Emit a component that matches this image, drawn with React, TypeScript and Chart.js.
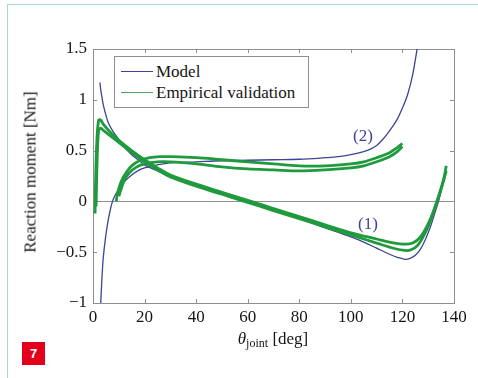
import React, { useEffect, useRef } from "react";
import { Chart, registerables } from "chart.js";

Chart.register(...registerables);

// ---- data ----
const xTicks = [0, 20, 40, 60, 80, 100, 120, 140];
const yTicks = [-1, -0.5, 0, 0.5, 1, 1.5];

// Model curve (2): rising from -1, plateau, then steep rise
const model2Theta = [3.0, 3.5, 4, 5, 6, 7, 8, 10, 12, 15, 18, 20, 25, 30, 40, 50, 60, 70, 80, 90, 95, 100, 105, 108, 110, 112, 114, 116, 118, 120, 122, 124, 125.7];
const model2Moment = [-1.0, -0.74, -0.55, -0.33, -0.17, -0.05, 0.03, 0.12, 0.19, 0.26, 0.31, 0.33, 0.36, 0.38, 0.39, 0.4, 0.405, 0.41, 0.415, 0.43, 0.44, 0.46, 0.49, 0.52, 0.55, 0.6, 0.66, 0.73, 0.81, 0.92, 1.05, 1.25, 1.5];

// Model curve (1): descending from 1.17 to minimum, then steep rise
const model1Theta = [2.7, 3, 4, 5, 6, 8, 10, 12, 15, 18, 20, 25, 30, 35, 40, 50, 60, 70, 80, 90, 100, 105, 110, 115, 118, 121, 123, 125, 127, 129, 131, 133, 134, 135, 136, 137];
const model1Moment = [1.17, 1.1, 0.95, 0.85, 0.77, 0.68, 0.61, 0.54, 0.46, 0.4, 0.36, 0.3, 0.25, 0.2, 0.16, 0.08, 0.0, -0.08, -0.17, -0.26, -0.35, -0.4, -0.46, -0.52, -0.55, -0.57, -0.56, -0.53, -0.47, -0.37, -0.24, -0.08, 0.0, 0.1, 0.22, 0.33];

// Empirical validation, curve (1), two strands of the loop
const emp1aTheta = [0.8, 1.0, 1.5, 2.2, 3, 4, 6, 8, 10, 15, 20, 25, 30, 40, 50, 60, 70, 80, 90, 100, 110, 115, 120, 124, 127, 130, 132, 134, 136, 137];
const emp1aMoment = [-0.12, 0.2, 0.6, 0.8, 0.8, 0.76, 0.7, 0.65, 0.6, 0.5, 0.41, 0.33, 0.26, 0.17, 0.09, 0.01, -0.07, -0.15, -0.23, -0.31, -0.37, -0.4, -0.42, -0.41, -0.35, -0.22, -0.1, 0.05, 0.22, 0.35];
const emp1bTheta = [1.2, 1.6, 2.2, 3, 4, 6, 8, 10, 15, 20, 25, 30, 40, 50, 60, 70, 80, 90, 100, 110, 115, 120, 123, 126, 129, 131, 133, 135, 137];
const emp1bMoment = [-0.05, 0.4, 0.7, 0.72, 0.7, 0.66, 0.62, 0.58, 0.48, 0.39, 0.31, 0.24, 0.15, 0.07, -0.01, -0.09, -0.17, -0.25, -0.33, -0.41, -0.45, -0.48, -0.48, -0.43, -0.3, -0.18, -0.03, 0.12, 0.3];

// Empirical validation, curve (2), two strands of the loop
const emp2aTheta = [9, 9.5, 11, 13, 15, 18, 22, 26, 30, 40, 50, 60, 70, 80, 90, 100, 105, 110, 115, 118, 120];
const emp2aMoment = [0.0, 0.08, 0.2, 0.29, 0.35, 0.4, 0.43, 0.44, 0.44, 0.43, 0.41, 0.39, 0.37, 0.35, 0.35, 0.37, 0.39, 0.43, 0.48, 0.53, 0.57];
const emp2bTheta = [10, 12, 14, 17, 20, 25, 30, 40, 50, 60, 70, 80, 90, 100, 105, 110, 115, 118, 120];
const emp2bMoment = [0.05, 0.2, 0.28, 0.34, 0.37, 0.39, 0.39, 0.37, 0.34, 0.32, 0.31, 0.3, 0.31, 0.33, 0.35, 0.39, 0.44, 0.49, 0.54];

const BLUE = "#3d4396";
const GREEN = "#1f9a3c";
const AXIS = "#8f8f8f";
const INK = "#151515";
const SERIF = "'Liberation Serif', 'DejaVu Serif', serif";
const FS = 17;

const toPts = (xs: number[], ys: number[]) => xs.map((x, i) => ({ x, y: ys[i] }));

const framePlugin = {
  id: "frame",
  beforeDatasetsDraw(chart: any) {
    const { ctx, chartArea: a, scales } = chart;
    const xs = scales.x;
    const ys = scales.y;
    ctx.save();
    ctx.strokeStyle = AXIS;
    ctx.lineWidth = 1;
    const y0 = Math.round(ys.getPixelForValue(0)) + 0.5;
    ctx.beginPath();
    ctx.moveTo(a.left, y0);
    ctx.lineTo(a.right, y0);
    ctx.stroke();
    ctx.strokeRect(Math.round(a.left) + 0.5, Math.round(a.top) + 0.5, Math.round(a.right - a.left), Math.round(a.bottom - a.top));
    const L = 4;
    ctx.beginPath();
    xTicks.forEach((t) => {
      const px = Math.round(xs.getPixelForValue(t)) + 0.5;
      ctx.moveTo(px, a.bottom);
      ctx.lineTo(px, a.bottom - L);
      ctx.moveTo(px, a.top);
      ctx.lineTo(px, a.top + L);
    });
    yTicks.forEach((t) => {
      const py = Math.round(ys.getPixelForValue(t)) + 0.5;
      ctx.moveTo(a.left, py);
      ctx.lineTo(a.left + L, py);
      ctx.moveTo(a.right, py);
      ctx.lineTo(a.right - L, py);
    });
    ctx.stroke();
    ctx.restore();
  },
};

export default function App() {
  const ref = useRef<HTMLCanvasElement | null>(null);

  useEffect(() => {
    if (!ref.current) return;
    const greenSet = (label: string, xs: number[], ys: number[]) => ({
      label,
      data: toPts(xs, ys),
      showLine: true,
      borderColor: GREEN,
      borderWidth: 2.8,
      pointRadius: 0,
      tension: 0.35,
      fill: false,
    });
    const chart = new Chart(ref.current, {
      type: "scatter",
      data: {
        datasets: [
          greenSet("Empirical validation (1a)", emp1aTheta, emp1aMoment),
          greenSet("Empirical validation (1b)", emp1bTheta, emp1bMoment),
          greenSet("Empirical validation (2a)", emp2aTheta, emp2aMoment),
          greenSet("Empirical validation (2b)", emp2bTheta, emp2bMoment),
          {
            label: "Model (1)",
            data: toPts(model1Theta, model1Moment),
            showLine: true,
            borderColor: BLUE,
            borderWidth: 1.3,
            pointRadius: 0,
            tension: 0.35,
          },
          {
            label: "Model (2)",
            data: toPts(model2Theta, model2Moment),
            showLine: true,
            borderColor: BLUE,
            borderWidth: 1.3,
            pointRadius: 0,
            tension: 0.35,
          },
        ],
      },
      options: {
        animation: false,
        responsive: true,
        maintainAspectRatio: false,
        layout: { padding: { top: 49, right: 24, bottom: 0, left: 0 } },
        plugins: { legend: { display: false }, tooltip: { enabled: false } },
        scales: {
          x: {
            type: "linear",
            min: 0,
            max: 140,
            afterBuildTicks: (s: any) => {
              s.ticks = xTicks.map((v) => ({ value: v }));
            },
            afterFit: (s: any) => {
              s.height = 75;
            },
            grid: { display: false, drawTicks: false },
            border: { display: false },
            ticks: {
              padding: 4,
              color: INK,
              font: { family: SERIF, size: FS },
              maxRotation: 0,
            },
          },
          y: {
            type: "linear",
            min: -1,
            max: 1.5,
            afterBuildTicks: (s: any) => {
              s.ticks = yTicks.map((v) => ({ value: v }));
            },
            afterFit: (s: any) => {
              s.width = 93;
            },
            grid: { display: false, drawTicks: false },
            border: { display: false },
            ticks: {
              padding: 6,
              color: INK,
              font: { family: SERIF, size: FS },
              callback: (v: any) => {
                const n = Number(v);
                return n < 0 ? "\u2212" + String(Math.abs(n)) : String(n);
              },
            },
          },
        },
      },
      plugins: [framePlugin],
    } as any);
    return () => chart.destroy();
  }, []);

  const text: React.CSSProperties = { position: "absolute", fontFamily: SERIF, fontSize: FS, color: INK, whiteSpace: "nowrap", lineHeight: 1 };

  return (
    <div style={{ position: "absolute", left: 0, top: 0, width: 478, height: 378, background: "#fff", overflow: "hidden" }}>
      <div style={{ position: "absolute", left: 7, top: 4, width: 480, height: 380, borderTop: "1px solid #a9dcc2", borderLeft: "1px solid #a9dcc2" }} />
      <div style={{ position: "absolute", left: 0, top: 0, width: 478, height: 378 }}>
        <canvas ref={ref} />
      </div>
      {/* legend */}
      <div style={{ position: "absolute", left: 114, top: 56, width: 193, height: 50, background: "#fff", border: "1px solid #8f8f8f" }}>
        <div style={{ position: "absolute", left: 6, top: 14, width: 32, height: 0, borderTop: `1.5px solid ${BLUE}` }} />
        <div style={{ ...text, left: 41, top: 6 }}>Model</div>
        <div style={{ position: "absolute", left: 6, top: 35, width: 32, height: 0, borderTop: "1.5px solid #4aa861" }} />
        <div style={{ ...text, left: 41, top: 27 }}>Empirical validation</div>
      </div>
      {/* annotations */}
      <div style={{ ...text, left: 353, top: 127, color: BLUE }}>(2)</div>
      <div style={{ ...text, left: 358, top: 215, color: BLUE }}>(1)</div>
      {/* y title */}
      <div style={{ ...text, left: 30, top: 172, transform: "translate(-50%, -50%) rotate(-90deg)" }}>Reaction moment [Nm]</div>
      {/* x title */}
      <div style={{ ...text, left: 273, top: 339, transform: "translate(-50%, -50%)" }}>
        <i>θ</i>
        <sub style={{ fontSize: 12, verticalAlign: "-3px" }}>joint</sub> [deg]
      </div>
      {/* figure number */}
      <div style={{ position: "absolute", left: 22, top: 342, width: 23, height: 23, background: "#e3001b", color: "#fff", fontFamily: "'Liberation Sans', Arial, sans-serif", fontWeight: 700, fontSize: 13, display: "flex", alignItems: "center", justifyContent: "center" }}>7</div>
    </div>
  );
}
